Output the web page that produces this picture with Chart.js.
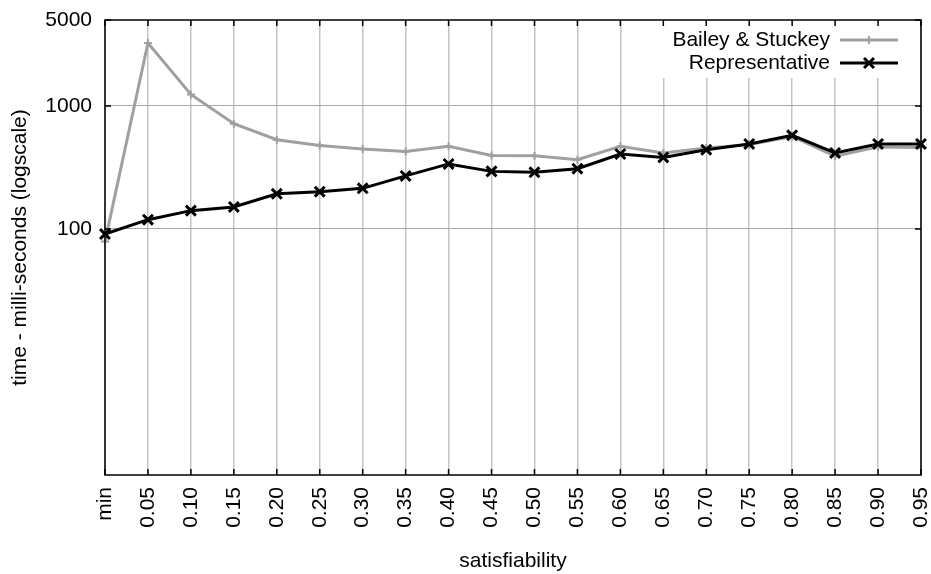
<!DOCTYPE html>
<html>
<head>
<meta charset="utf-8">
<script src="https://cdn.jsdelivr.net/npm/chart.js@4"></script>
<style>
  html, body { margin: 0; padding: 0; background: #ffffff; }
  #wrap { width: 931px; height: 574px; }
</style>
</head>
<body>
<div id="wrap"><canvas id="c" width="931" height="574"></canvas></div>
<script>
// satisfiability levels along the x axis
const categories = ['min', '0.05', '0.10', '0.15', '0.20', '0.25', '0.30', '0.35', '0.40', '0.45',
                    '0.50', '0.55', '0.60', '0.65', '0.70', '0.75', '0.80', '0.85', '0.90', '0.95'];

// run time in milliseconds
const baileyStuckey  = [79, 3250, 1240, 718, 532, 478, 447, 427, 470, 396,
                        394, 366, 470, 415, 455, 485, 565, 390, 465, 460];
const representative = [91, 119, 141, 151, 193, 201, 214, 270, 338, 294,
                        289, 309, 407, 382, 441, 491, 577, 415, 491, 491];

// labelled ticks on the log axis
const yTickValues = [100, 1000, 5000];
const yMin = 1;
const yMax = 5000;

const FONT = "'Liberation Sans', Arial, Helvetica, sans-serif";
const GREY = '#a0a0a0';

// legend drawn inside the plot frame, top right, with a white backing
const insideLegend = {
  id: 'insideLegend',
  beforeDatasetsDraw(chart) {
    const { ctx, chartArea } = chart;
    ctx.save();
    ctx.fillStyle = '#ffffff';
    ctx.fillRect(645, chartArea.top + 1, chartArea.right - 645 - 1, 78 - chartArea.top - 1);
    ctx.restore();
  },
  afterDraw(chart) {
    const { ctx } = chart;
    const rows = [
      { ds: chart.data.datasets[0], y: 40 },
      { ds: chart.data.datasets[1], y: 63 }
    ];
    ctx.save();
    ctx.font = '21px ' + FONT;
    ctx.textAlign = 'right';
    ctx.textBaseline = 'middle';
    ctx.fillStyle = '#000000';
    const x0 = 840, x1 = 898, xm = (x0 + x1) / 2;
    rows.forEach(r => {
      ctx.fillText(r.ds.label, 830, r.y);
      ctx.strokeStyle = r.ds.borderColor;
      ctx.lineWidth = r.ds.borderWidth;
      ctx.beginPath();
      ctx.moveTo(x0, r.y);
      ctx.lineTo(x1, r.y);
      ctx.stroke();
      ctx.strokeStyle = r.ds.pointBorderColor;
      ctx.fillStyle = r.ds.pointBorderColor;
      ctx.lineWidth = r.ds.pointBorderWidth;
      Chart.helpers.drawPoint(ctx, {
        pointStyle: r.ds.pointStyle,
        radius: r.ds.pointRadius,
        borderWidth: r.ds.pointBorderWidth,
        rotation: 0
      }, xm, r.y);
      ctx.fillStyle = '#000000';
    });
    ctx.restore();
  }
};

// full frame with inward tick marks on all four sides
const frame = {
  id: 'frame',
  afterDraw(chart) {
    const { ctx, chartArea: a, scales } = chart;
    const tick = 6;
    ctx.save();
    ctx.strokeStyle = '#000000';
    ctx.lineWidth = 1.5;
    ctx.beginPath();
    categories.forEach((c, i) => {
      const x = scales.x.getPixelForValue(i);
      ctx.moveTo(x, a.bottom); ctx.lineTo(x, a.bottom - tick);
      ctx.moveTo(x, a.top); ctx.lineTo(x, a.top + tick);
    });
    yTickValues.forEach(v => {
      const y = scales.y.getPixelForValue(v);
      ctx.moveTo(a.left, y); ctx.lineTo(a.left + tick, y);
      ctx.moveTo(a.right, y); ctx.lineTo(a.right - tick, y);
    });
    ctx.stroke();
    ctx.strokeRect(a.left, a.top, a.right - a.left, a.bottom - a.top);
    ctx.restore();
  }
};

new Chart(document.getElementById('c'), {
  type: 'line',
  data: {
    labels: categories,
    datasets: [
      {
        label: 'Bailey & Stuckey',
        data: baileyStuckey,
        borderColor: GREY,
        borderWidth: 3,
        pointStyle: 'cross',
        pointRadius: 4,
        pointBorderWidth: 2,
        pointBorderColor: GREY,
        pointBackgroundColor: GREY,
        tension: 0,
        order: 2
      },
      {
        label: 'Representative',
        data: representative,
        borderColor: '#000000',
        borderWidth: 3,
        pointStyle: 'crossRot',
        pointRadius: 7,
        pointBorderWidth: 3,
        pointBorderColor: '#000000',
        pointBackgroundColor: '#000000',
        tension: 0,
        order: 1
      }
    ]
  },
  options: {
    responsive: false,
    animation: false,
    devicePixelRatio: 1,
    layout: { padding: { top: 20, right: 9, left: 0, bottom: 0 } },
    plugins: {
      legend: { display: false },
      tooltip: { enabled: false }
    },
    scales: {
      x: {
        type: 'category',
        offset: false,
        afterFit(scale) {
          scale.height = 99;
          scale.paddingLeft = 0;
          scale.paddingRight = 0;
        },
        grid: {
          color: '#c4c4c4',
          lineWidth: 1.5,
          drawTicks: false
        },
        border: { display: false },
        ticks: {
          autoSkip: false,
          minRotation: 90,
          maxRotation: 90,
          padding: 12,
          color: '#000000',
          font: { family: FONT, size: 21 }
        },
        title: {
          display: true,
          text: 'satisfiability',
          color: '#000000',
          font: { family: FONT, size: 21 },
          padding: { top: 0, bottom: 0 }
        }
      },
      y: {
        type: 'logarithmic',
        min: yMin,
        max: yMax,
        afterFit(scale) {
          scale.width = 105;
          scale.paddingTop = 0;
          scale.paddingBottom = 0;
        },
        afterBuildTicks(scale) {
          scale.ticks = yTickValues.map(v => ({ value: v }));
        },
        grid: {
          color: ctx => (ctx.tick && ctx.tick.value === yMax) ? 'rgba(0,0,0,0)' : '#a8a8a8',
          lineWidth: 1,
          drawTicks: false
        },
        border: { display: false },
        ticks: {
          padding: 13,
          color: '#000000',
          font: { family: FONT, size: 21 },
          callback: v => String(v)
        },
        title: {
          display: true,
          text: 'time - milli-seconds (logscale)',
          color: '#000000',
          font: { family: FONT, size: 21 },
          padding: { top: 8, bottom: 0 }
        }
      }
    }
  },
  plugins: [insideLegend, frame]
});
</script>
</body>
</html>
